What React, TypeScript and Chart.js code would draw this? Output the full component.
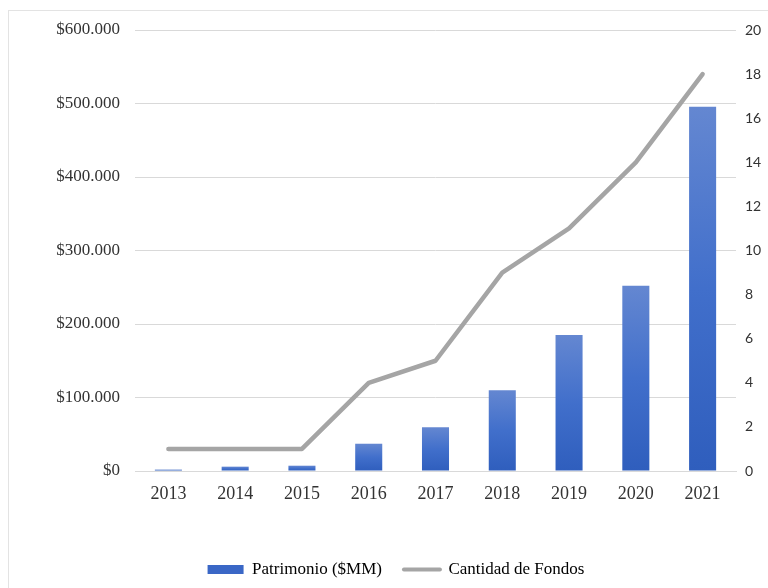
import React, { useEffect, useRef } from "react";
import { Chart, registerables } from "chart.js";

Chart.register(...registerables);

const years = ["2013", "2014", "2015", "2016", "2017", "2018", "2019", "2020", "2021"];
const patrimonio = [1800, 5900, 7200, 37100, 59400, 110000, 185000, 252000, 495600];
const cantidadFondos = [1, 1, 1, 4, 5, 9, 11, 14, 18];
const barLabel = "Patrimonio ($MM)";
const lineLabel = "Cantidad de Fondos";

const formatPeso = (v: number) =>
  "$" + Math.round(v).toString().replace(/\B(?=(\d{3})+(?!\d))/g, ".");

export default function App() {
  const canvasRef = useRef<HTMLCanvasElement | null>(null);

  useEffect(() => {
    if (!canvasRef.current) return;
    const serif = "'Liberation Serif', 'Times New Roman', serif";
    const chart = new Chart(canvasRef.current, {
      type: "bar",
      data: {
        labels: years,
        datasets: [
          {
            type: "line",
            label: lineLabel,
            data: cantidadFondos,
            yAxisID: "y1",
            borderColor: "#a5a5a5",
            backgroundColor: "#a5a5a5",
            borderWidth: 4.5,
            pointRadius: 0,
            pointHoverRadius: 0,
            tension: 0,
            borderCapStyle: "round",
            borderJoinStyle: "round",
            order: 0,
          } as any,
          {
            type: "bar",
            label: barLabel,
            data: patrimonio,
            yAxisID: "y",
            order: 1,
            categoryPercentage: 1,
            barPercentage: 0.405,
            backgroundColor: (ctx: any) => {
              const c = ctx.chart;
              if (!c.chartArea || ctx.type !== "data") return "#3f6fca";
              const ys = c.scales.y;
              const top = ys.getPixelForValue(ctx.raw);
              const bottom = ys.getPixelForValue(0);
              if (!isFinite(top) || !isFinite(bottom) || bottom - top < 3) return "#2f5ebd";
              const g = c.ctx.createLinearGradient(0, top, 0, bottom);
              g.addColorStop(0, "#6487d1");
              g.addColorStop(0.5, "#416fcb");
              g.addColorStop(1, "#2f5ebd");
              return g;
            },
          } as any,
        ],
      },
      options: {
        animation: false,
        responsive: false,
        maintainAspectRatio: false,
        layout: { padding: { top: 30, left: 0, right: 0, bottom: 0 } },
        plugins: {
          tooltip: { enabled: false },
          legend: {
            position: "bottom",
            reverse: false,
            labels: {
              usePointStyle: true,
              pointStyleWidth: 36,
              boxHeight: 9,
              padding: 22,
              color: "#333333",
              font: { family: serif, size: 17 },
              generateLabels: () => [
                {
                  text: barLabel,
                  fillStyle: "#3a67c6",
                  strokeStyle: "#3a67c6",
                  lineWidth: 0,
                  pointStyle: "rect",
                  hidden: false,
                  datasetIndex: 1,
                } as any,
                {
                  text: lineLabel,
                  fillStyle: "#a5a5a5",
                  strokeStyle: "#a5a5a5",
                  lineWidth: 4,
                  lineCap: "round",
                  pointStyle: "line",
                  hidden: false,
                  datasetIndex: 0,
                } as any,
              ],
            },
          },
        },
        scales: {
          x: {
            grid: { display: false, drawTicks: false },
            border: { display: true, color: "#d9d9d9", width: 1 },
            ticks: {
              color: "#333333",
              font: { family: serif, size: 18 },
              padding: 12,
              maxRotation: 0,
            },
            afterFit: (s: any) => {
              s.height = 68;
            },
          },
          y: {
            position: "left",
            min: 0,
            max: 600000,
            grid: { color: "#d9d9d9", lineWidth: 1, drawTicks: false },
            border: { display: false },
            ticks: {
              stepSize: 100000,
              padding: 15,
              color: "#333333",
              font: { family: serif, size: 17 },
              callback: (v: any) => formatPeso(Number(v)),
            },
            afterFit: (s: any) => {
              s.width = 123;
            },
          },
          y1: {
            position: "right",
            min: 0,
            max: 20,
            grid: { display: false, drawTicks: false },
            border: { display: false },
            ticks: {
              stepSize: 2,
              padding: 9,
              color: "#333333",
              font: { family: "Lato, 'Open Sans', sans-serif", size: 14 },
            },
            afterFit: (s: any) => {
              s.width = 44;
            },
          },
        },
      },
    });
    return () => chart.destroy();
  }, []);

  return (
    <div>
      <div
        style={{
          position: "fixed",
          left: 8,
          top: 10,
          width: 900,
          height: 700,
          border: "1px solid #e3e3e3",
          boxSizing: "border-box",
        }}
      />
      <div style={{ position: "fixed", left: 12, top: 0, width: 768, height: 588 }}>
        <canvas ref={canvasRef} width={768} height={588} style={{ width: 768, height: 588 }} />
      </div>
    </div>
  );
}
